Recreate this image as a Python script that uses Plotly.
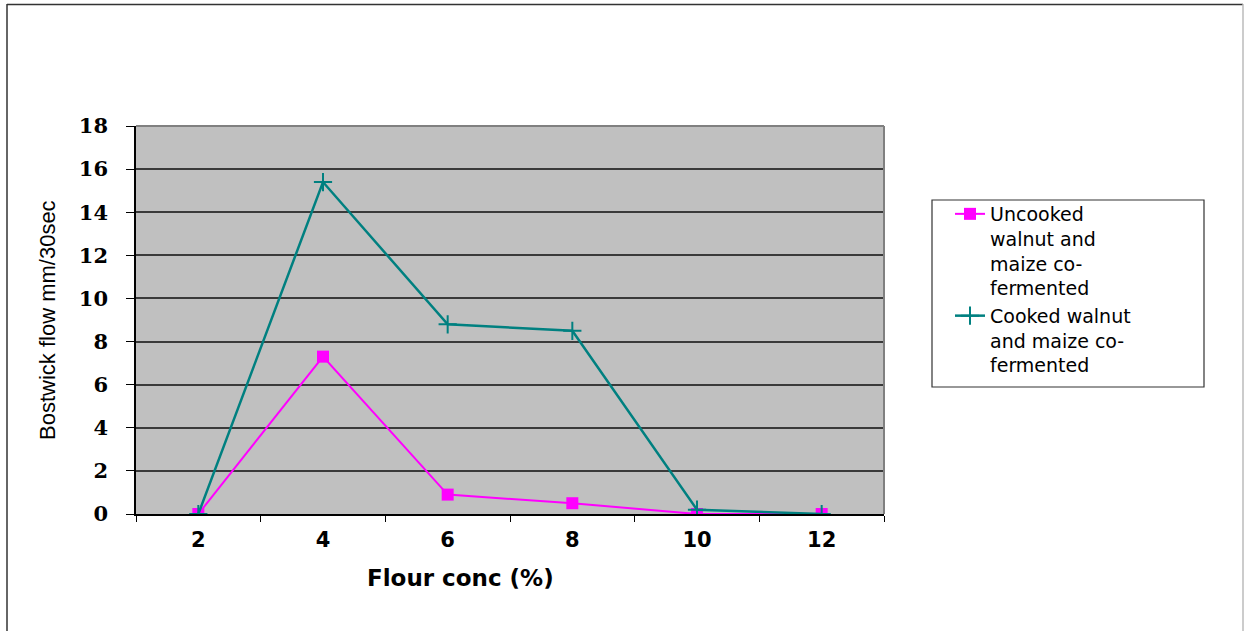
import plotly.graph_objects as go

# ---- data ----
flour_conc = ["2", "4", "6", "8", "10", "12"]
uncooked = [0, 7.3, 0.9, 0.5, 0, 0]
cooked = [0, 15.4, 8.8, 8.5, 0.2, 0]
y_ticks = [0, 2, 4, 6, 8, 10, 12, 14, 16, 18]
series_names = ["Uncooked<br>walnut and<br>maize co-<br>fermented",
                "Cooked walnut<br>and maize co-<br>fermented"]

W, H = 1244, 631
L, R, T, B = 136, 884, 126, 514
pw, ph = R - L, B - T

def px(x):
    return (x - L) / pw

def py(y):
    return (B - y) / ph

fig = go.Figure()
fig.add_trace(go.Scatter(
    x=flour_conc, y=uncooked, name=series_names[0], mode="lines+markers",
    line=dict(color="#FF00FF", width=2),
    marker=dict(symbol="square", size=12, color="#FF00FF"),
))
fig.add_trace(go.Scatter(
    x=flour_conc, y=cooked, name=series_names[1], mode="lines+markers",
    line=dict(color="#008080", width=2.5),
    marker=dict(symbol="cross-thin", size=13, color="#008080",
                line=dict(color="#008080", width=2)),
))

fig.update_layout(
    width=W, height=H,
    margin=dict(l=L, r=W - R, t=T, b=H - B),
    paper_bgcolor="white",
    plot_bgcolor="#C0C0C0",
    showlegend=True,
    legend=dict(
        x=px(950), y=py(195), xanchor="left", yanchor="top",
        bgcolor="rgba(0,0,0,0)", borderwidth=0,
        font=dict(family="DejaVu Sans", size=19, color="black"),
        valign="top", tracegroupgap=0,
    ),
    xaxis=dict(
        type="category", range=[-0.5, 5.5],
        tickson="boundaries", ticks="outside", ticklen=6, tickcolor="black",
        showline=True, linecolor="black", linewidth=1.5,
        showgrid=False, zeroline=False,
        tickfont=dict(family="DejaVu Sans", size=21, color="black", weight="bold"),
        ticklabelstandoff=6,
    ),
    yaxis=dict(
        range=[0, 18], tickvals=y_ticks,
        ticks="outside", ticklen=8, tickcolor="black",
        showline=True, linecolor="black", linewidth=1.5,
        showgrid=True, gridcolor="#3a3a3a", gridwidth=1.5,
        zeroline=False,
        tickfont=dict(family="DejaVu Serif", size=21, color="black", weight="bold"),
        ticklabelstandoff=14,
    ),
    annotations=[
        dict(text="Bostwick flow mm/30sec", xref="paper", yref="paper",
             x=px(47), y=0.5, xanchor="center", yanchor="middle",
             textangle=-90, showarrow=False,
             font=dict(family="Liberation Sans", size=22, color="black")),
        dict(text="Flour conc (%)", xref="paper", yref="paper",
             x=px(460), y=py(578), xanchor="center", yanchor="middle",
             showarrow=False,
             font=dict(family="DejaVu Sans", size=23, color="black", weight="bold")),
    ],
    shapes=[
        # plot area top/right border
        dict(type="line", xref="paper", yref="paper", x0=0, x1=1, y0=1, y1=1,
             line=dict(color="#808080", width=2)),
        dict(type="line", xref="paper", yref="paper", x0=1, x1=1, y0=0, y1=1,
             line=dict(color="#808080", width=2)),
        # legend box
        dict(type="rect", xref="paper", yref="paper",
             x0=px(932), x1=px(1204), y0=py(387), y1=py(200),
             line=dict(color="#333333", width=1.2)),
        # outer chart border
        dict(type="line", xref="paper", yref="paper",
             x0=px(7), x1=px(7), y0=py(4), y1=py(640),
             line=dict(color="#333333", width=1.5)),
        dict(type="line", xref="paper", yref="paper",
             x0=px(7), x1=px(1243), y0=py(4.5), y1=py(4.5),
             line=dict(color="#333333", width=1.5)),
        dict(type="line", xref="paper", yref="paper",
             x0=px(1243), x1=px(1243), y0=py(4), y1=py(640),
             line=dict(color="#BBBBBB", width=1.5)),
    ],
)

fig.write_html("out.html")
